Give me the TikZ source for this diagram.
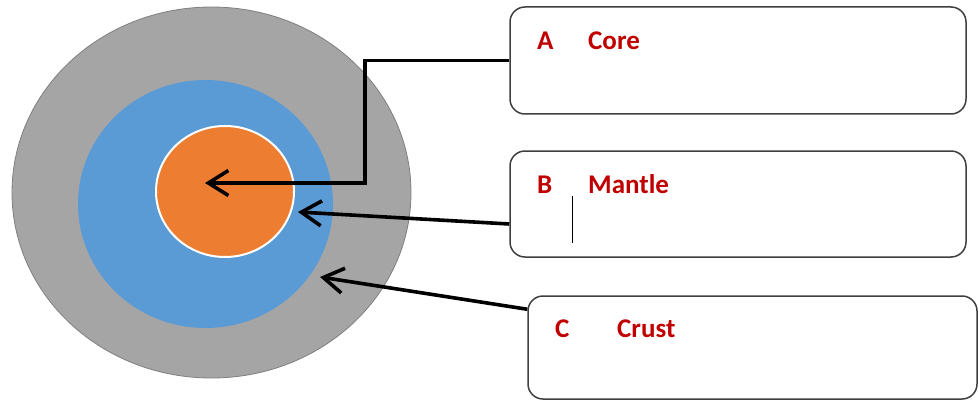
\documentclass[tikz,border=0pt]{standalone}
\usepackage{fontspec}
\setmainfont{Carlito}
\usetikzlibrary{arrows.meta,positioning,shapes.geometric,calc}
\definecolor{crustgray}{HTML}{A5A5A5}
\definecolor{rimgray}{HTML}{7F7F7F}
\definecolor{mantleblue}{HTML}{5B9BD5}
\definecolor{coreorange}{HTML}{ED7D31}
\definecolor{labelred}{HTML}{C00000}
\definecolor{dark}{HTML}{3F3F3F}
\tikzset{
  layer/.style={ellipse, inner sep=0pt},
  answerbox/.style={draw=dark, rounded corners=15pt, line width=1.5pt, fill=white, inner sep=0pt},
  tag/.style={anchor=base west, text=labelred, font=\bfseries\fontsize{27}{30}\selectfont, inner sep=0pt},
  pointer/.style={-{Straight Barb[length=20pt,width=25pt]}, line width=3.6pt, draw=black}
}

\begin{document}
\begin{tikzpicture}[x=1pt, y=-1pt]
  \useasboundingbox (0,0) rectangle (979,401);
  % earth layers
  \node[layer, fill=crustgray, draw=rimgray, line width=0.8pt, minimum width=399pt, minimum height=371pt] (crust) at (211.5,192.5) {};
  \node[layer, fill=mantleblue, minimum width=255pt, minimum height=248pt] (mantle) at (205.5,204) {};
  \node[layer, fill=coreorange, draw=white, line width=2pt, minimum width=138pt, minimum height=131pt] (core) at (225,191.5) {};
  % answer boxes
  \node[answerbox, minimum width=456pt, minimum height=107pt] (boxA) at (738,60.5) {};
  \node[answerbox, minimum width=456pt, minimum height=106pt] (boxB) at (738,204) {};
  \node[answerbox, minimum width=449pt, minimum height=103pt] (boxC) at (752.5,347.5) {};
  \node[tag] (letA) at (537,50) {A};
  \node[tag] (nameA) at (588,50) {Core};
  \node[tag] (letB) at (537,193) {B};
  \node[tag] (nameB) at (588,193) {Mantle};
  \node[tag] (letC) at (555,337) {C};
  \node[tag] (nameC) at (617,337) {Crust};
  \draw[line width=0.8pt] (572,196) -- (572,243);
  % pointers
  \coordinate (tipA) at (205,183);
  \coordinate (tipB) at (298,212);
  \coordinate (tipC) at (320,277);
  \draw[pointer] (boxA.west) -- ++(-144,0) |- (tipA);
  \draw[pointer] ([yshift=-20pt]boxB.west) -- (tipB);
  \draw[pointer] ([yshift=-14pt]boxC.north west) -- (tipC);
\end{tikzpicture}
\end{document}
